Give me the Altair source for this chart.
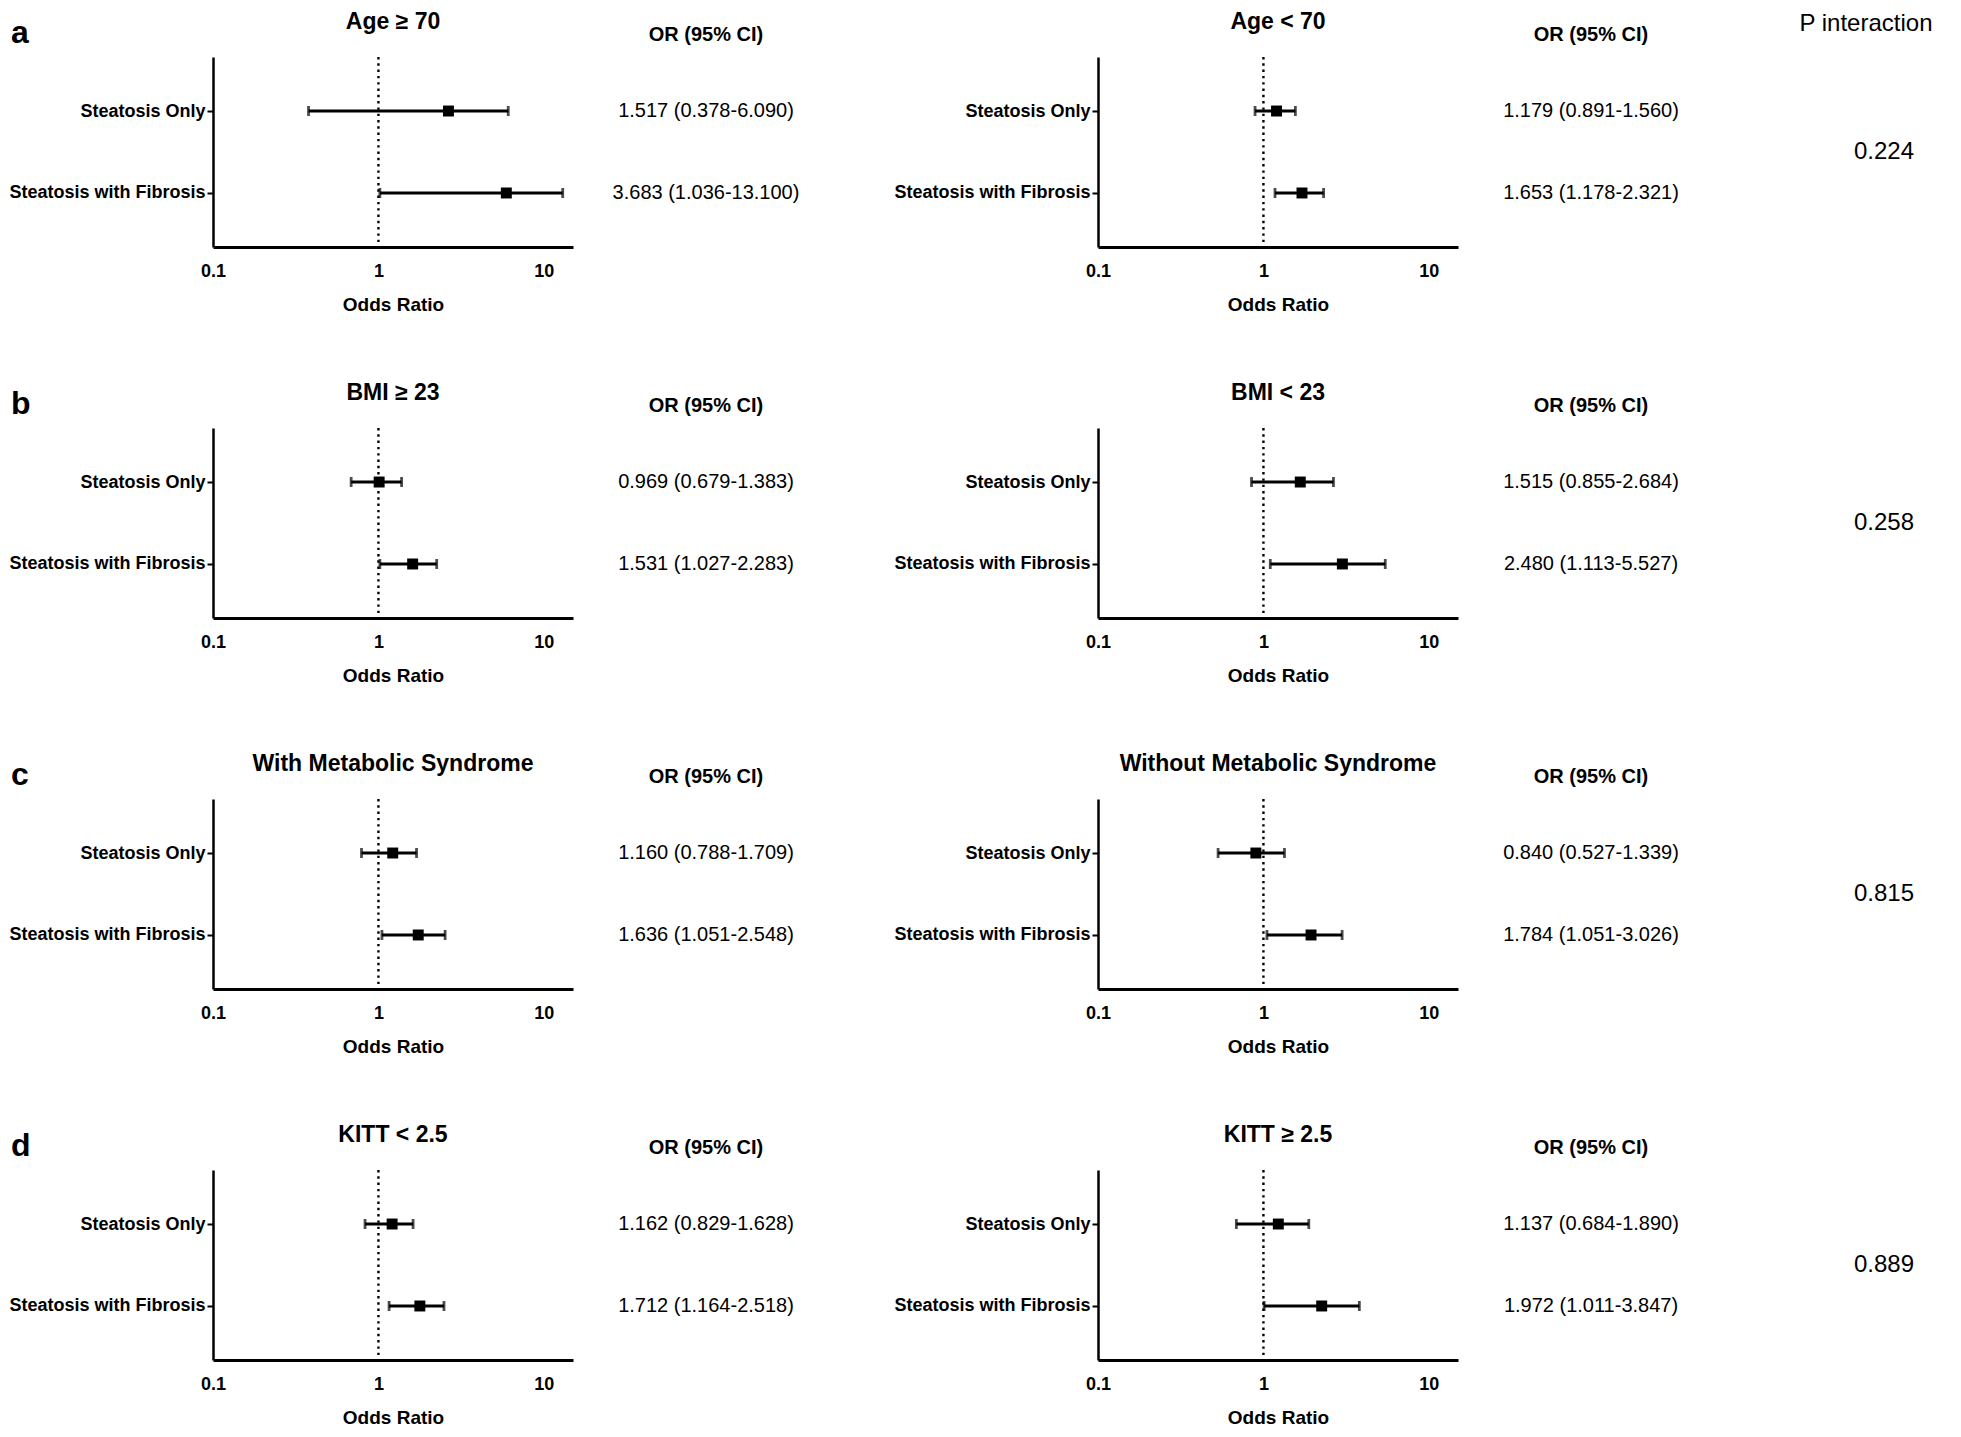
import altair as alt
import pandas as pd

FONT = "Liberation Sans"

# ---------------- data ----------------
panel_titles = ["Age \u2265 70", "Age < 70", "BMI \u2265 23", "BMI < 23",
                "With Metabolic Syndrome", "Without Metabolic Syndrome",
                "KITT < 2.5", "KITT \u2265 2.5"]
row_letters = ["a", "b", "c", "d"]
categories = ["Steatosis Only", "Steatosis with Fibrosis"]

# plotted positions
only_lo = [0.378, 0.89, 0.684, 0.847, 0.79, 0.532, 0.83, 0.686]
only_or = [2.65, 1.20, 1.01, 1.67, 1.22, 0.90, 1.21, 1.23]
only_hi = [6.09, 1.56, 1.38, 2.65, 1.70, 1.34, 1.62, 1.88]
fib_lo = [1.02, 1.175, 1.02, 1.10, 1.05, 1.05, 1.16, 1.01]
fib_or = [5.93, 1.71, 1.61, 3.00, 1.74, 1.94, 1.78, 2.25]
fib_hi = [13.0, 2.31, 2.25, 5.45, 2.53, 2.99, 2.49, 3.80]

only_text = ["1.517 (0.378-6.090)", "1.179 (0.891-1.560)", "0.969 (0.679-1.383)",
             "1.515 (0.855-2.684)", "1.160 (0.788-1.709)", "0.840 (0.527-1.339)",
             "1.162 (0.829-1.628)", "1.137 (0.684-1.890)"]
fib_text = ["3.683 (1.036-13.100)", "1.653 (1.178-2.321)", "1.531 (1.027-2.283)",
            "2.480 (1.113-5.527)", "1.636 (1.051-2.548)", "1.784 (1.051-3.026)",
            "1.712 (1.164-2.518)", "1.972 (1.011-3.847)"]

p_values = ["0.224", "0.258", "0.815", "0.889"]
or_header = "OR (95% CI)"
p_header = "P interaction"
x_tick_values = [0.1, 1, 10]
x_domain = [0.1, 15]

# ---------------- layout ----------------
W, H = 360, 190


def make_panel(i, side):
    df = pd.DataFrame({
        "cat": categories,
        "lo": [only_lo[i], fib_lo[i]],
        "or": [only_or[i], fib_or[i]],
        "hi": [only_hi[i], fib_hi[i]],
        "txt": [only_text[i], fib_text[i]],
    })
    xscale = alt.Scale(type="log", domain=x_domain, nice=False)
    yscale = alt.Scale(type="point", domain=categories, padding=0.659)
    xaxis = alt.Axis(values=x_tick_values, format="~g", title="Odds Ratio",
                     ticks=False, tickSize=0, labelPadding=15, labelFlush=False,
                     labelFontSize=18, labelFontWeight="bold", labelColor="black",
                     labelFont=FONT, titleFontSize=19, titleFontWeight="bold",
                     titleColor="black", titleFont=FONT, titlePadding=15,
                     domainColor="black", domainWidth=3, grid=False, labelOverlap=False)
    yaxis = alt.Axis(title=None, labelFontSize=18, labelFontWeight="bold",
                     labelColor="black", labelFont=FONT, tickSize=6, tickWidth=2,
                     tickColor="black", labelPadding=2, labelLimit=400,
                     domainColor="black", domainWidth=2.5, grid=False)

    def X(f):
        return alt.X(f, type="quantitative", scale=xscale, axis=xaxis)

    Y = alt.Y("cat:N", scale=yscale, axis=yaxis)

    base = alt.Chart(df)
    ref = alt.Chart(pd.DataFrame({"lo": [1.0]})).mark_rule(
        color="black", strokeWidth=2.4, strokeDash=[2.4, 3.9]).encode(x=X("lo"))
    ci = base.mark_rule(color="black", strokeWidth=2.8).encode(
        x=X("lo"), x2="hi:Q", y=Y)
    cap_lo = base.mark_tick(color="black", thickness=2.8, size=10).encode(x=X("lo"), y=Y)
    cap_hi = base.mark_tick(color="black", thickness=2.8, size=10).encode(x=X("hi"), y=Y)
    sq = base.mark_square(color="black", size=120, opacity=1, filled=True).encode(
        x=X("or"), y=Y)
    vals = base.mark_text(font=FONT, fontSize=20, color="black", align="center",
                          baseline="middle").encode(
        y=Y, x=alt.value(W + 133), text="txt:N")

    title = alt.Chart(pd.DataFrame({"t": [panel_titles[i]]})).mark_text(
        font=FONT, fontSize=23, fontWeight="bold", color="black",
        align="center", baseline="middle").encode(
        x=alt.value(W / 2), y=alt.value(-35), text="t:N")
    head = alt.Chart(pd.DataFrame({"t": [or_header]})).mark_text(
        font=FONT, fontSize=20, fontWeight="bold", color="black",
        align="center", baseline="middle").encode(
        x=alt.value(W + 133), y=alt.value(-22), text="t:N")

    layers = [ref, ci, cap_lo, cap_hi, sq, vals, title, head]
    r = i // 2
    if side == "left":
        letter = alt.Chart(pd.DataFrame({"t": [row_letters[r]]})).mark_text(
            font=FONT, fontSize=32, fontWeight="bold", color="black",
            align="left", baseline="middle").encode(
            x=alt.value(-202), y=alt.value(-24), text="t:N")
        layers.append(letter)
        right_edge = 595
    else:
        if r == 0:
            ph = alt.Chart(pd.DataFrame({"t": [p_header]})).mark_text(
                font=FONT, fontSize=24, color="black", align="center",
                baseline="middle").encode(x=alt.value(768), y=alt.value(-33), text="t:N")
            layers.append(ph)
        pv = alt.Chart(pd.DataFrame({"t": [p_values[r]]})).mark_text(
            font=FONT, fontSize=24, color="black", align="center",
            baseline="middle").encode(x=alt.value(786), y=alt.value(95), text="t:N")
        layers.append(pv)
        right_edge = 845
    bound = alt.Chart(pd.DataFrame({"b": [0]})).mark_rule(
        color="white", strokeOpacity=0, strokeWidth=1).encode(
        x=alt.value(0), x2=alt.value(right_edge),
        y=alt.value(-49), y2=alt.value(257))
    layers.append(bound)
    return alt.layer(*layers).properties(width=W, height=H)


rows = []
for r in range(4):
    rows.append(alt.hconcat(make_panel(2 * r, "left"), make_panel(2 * r + 1, "right"),
                            spacing=85))

chart = (alt.vconcat(*rows, spacing=65)
         .properties(padding=0)
         .configure(font=FONT)
         .configure_view(stroke=None))

chart.save("out.html", embed_options={"renderer": "svg", "actions": False})
